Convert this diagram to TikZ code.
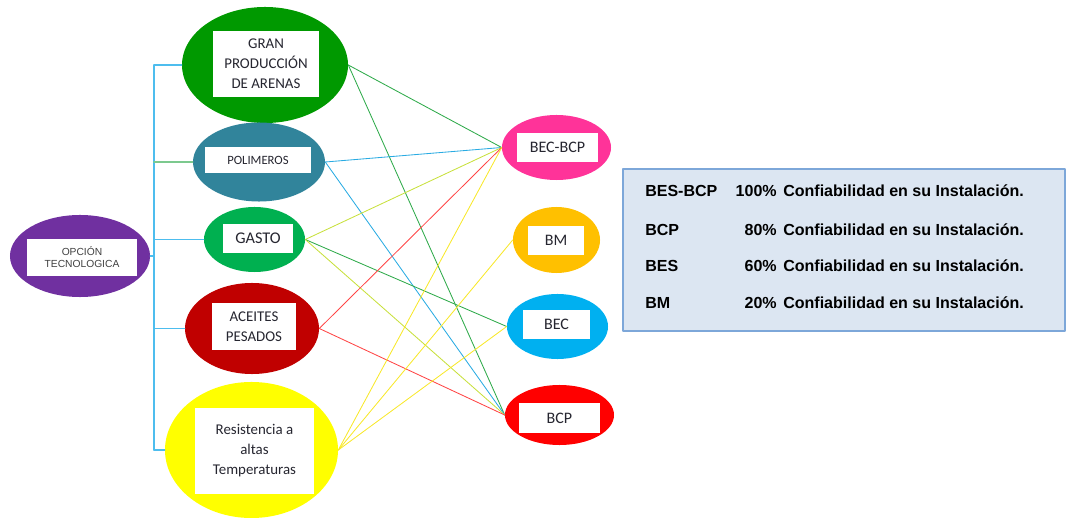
\documentclass[tikz,border=0pt]{standalone}
\usepackage{fontspec}
\setmainfont{Carlito}
\newfontfamily\arialfont{Liberation Sans}
\usetikzlibrary{shapes.geometric}

\definecolor{cPurple}{HTML}{7030A0}
\definecolor{cGreen}{HTML}{009900}
\definecolor{cTeal}{HTML}{31849B}
\definecolor{cGasto}{HTML}{00B050}
\definecolor{cDarkRed}{HTML}{C00000}
\definecolor{cYellow}{HTML}{FFFF00}
\definecolor{cPink}{HTML}{FF3399}
\definecolor{cOrange}{HTML}{FFC000}
\definecolor{cSky}{HTML}{00B0F0}
\definecolor{cRed}{HTML}{FF0000}
\definecolor{txtgray}{HTML}{262630}
\definecolor{busblue}{HTML}{4DBDEE}
\definecolor{busgreen}{HTML}{7CC98E}
\definecolor{lnGreen}{HTML}{2EAA4A}
\definecolor{lnBlue}{HTML}{29ABE2}
\definecolor{lnLime}{HTML}{C8E03C}
\definecolor{lnRed}{HTML}{FF4545}
\definecolor{lnYellow}{HTML}{F8E82A}
\definecolor{tabFill}{HTML}{DCE6F2}
\definecolor{tabLine}{HTML}{7DA7D9}

\tikzset{
  blob/.style={ellipse, draw=none, inner sep=0pt},
  lbl/.style={fill=white, inner sep=0pt, align=center, text=txtgray},
  link/.style={line width=0.6pt},
  bus/.style={line width=1pt, color=busblue},
  tabtxt/.style={inner sep=0pt, font=\arialfont\bfseries\fontsize{11.4}{13}\selectfont},
}

\begin{document}
\begin{tikzpicture}[x=0.025cm,y=-0.025cm,line cap=round,line join=round]
  \useasboundingbox (0,0) rectangle (1067,518);

  % left side
  \node[blob, fill=cPurple, minimum width=3.5cm, minimum height=2.05cm] (opcion) at (80,256) {};
  \node[lbl, minimum width=2.75cm, minimum height=0.925cm, text=black!75,
        font=\arialfont\fontsize{7.3}{8.6}\selectfont] (opcionlbl) at (82,257.5) {OPCIÓN\\TECNOLOGICA};

  \node[blob, fill=cGreen, minimum width=4.15cm, minimum height=2.9cm] (gran) at (265,65) {};
  \node[lbl, minimum width=2.65cm, minimum height=1.65cm,
        font=\fontsize{10.6}{14.2}\selectfont] (granlbl) at (266,64) {GRAN\\PRODUCCIÓN\\DE ARENAS};

  \node[blob, fill=cTeal, minimum width=3.3cm, minimum height=1.975cm] (polim) at (259,162) {};
  \node[lbl, minimum width=2.65cm, minimum height=0.65cm,
        font=\fontsize{9}{11}\selectfont] (polimlbl) at (258,160) {POLIMEROS};

  \node[blob, fill=cGasto, minimum width=2.525cm, minimum height=1.625cm] (gasto) at (254.5,239.5) {};
  \node[lbl, minimum width=1.75cm, minimum height=0.725cm,
        font=\fontsize{11.6}{14}\selectfont] (gastolbl) at (258,238.5) {GASTO};

  \node[blob, fill=cDarkRed, minimum width=3.35cm, minimum height=2.275cm] (aceites) at (252,328.5) {};
  \node[lbl, minimum width=2.1cm, minimum height=1.175cm,
        font=\fontsize{10.6}{14.2}\selectfont] (aceiteslbl) at (254,326.5) {ACEITES\\PESADOS};

  \node[blob, fill=cYellow, minimum width=4.325cm, minimum height=3.4cm] (resist) at (251.5,450) {};
  \node[lbl, minimum width=2.975cm, minimum height=2.15cm,
        font=\fontsize{10.6}{14.2}\selectfont] (resistlbl) at (254.5,451) {Resistencia a\\altas\\Temperaturas};

  % bracket
  \coordinate (bustop) at (154,65);
  \draw[bus] (gran.west) -- (gran.west -| bustop);
  \draw[bus] (gran.west -| bustop) -- (resist.west -| bustop);
  \draw[bus, color=busgreen] (polim.west) -- (polim.west -| bustop);
  \draw[bus] (gasto.west) -- (gasto.west -| bustop);
  \draw[bus] (aceites.west) -- (aceites.west -| bustop);
  \draw[bus] (resist.west) -- (resist.west -| bustop);
  \draw[bus] (opcion.east) -- (opcion.east -| bustop);

  % right side
  \node[blob, fill=cPink, minimum width=2.725cm, minimum height=1.625cm] (becbcp) at (556.5,147.5) {};
  \node[lbl, minimum width=2.025cm, minimum height=0.725cm,
        font=\fontsize{11.4}{14}\selectfont] (becbcplbl) at (557.5,147.5) {BEC-BCP};

  \node[blob, fill=cOrange, minimum width=2.175cm, minimum height=1.65cm] (bm) at (556.5,240) {};
  \node[lbl, minimum width=1.4cm, minimum height=0.725cm,
        font=\fontsize{11.4}{14}\selectfont] (bmlbl) at (556,240.5) {BM};

  \node[blob, fill=cSky, minimum width=2.525cm, minimum height=1.625cm] (bec) at (557.5,326.5) {};
  \node[lbl, minimum width=1.675cm, minimum height=0.725cm,
        font=\fontsize{11.4}{14}\selectfont] (beclbl) at (556.5,324.5) {BEC};

  \node[blob, fill=cRed, minimum width=2.725cm, minimum height=1.5cm] (bcp) at (559.5,415) {};
  \node[lbl, minimum width=2.025cm, minimum height=0.75cm,
        font=\fontsize{11.4}{14}\selectfont] (bcplbl) at (559.5,418) {BCP};

  % links
  \draw[link, lnGreen] (gran.east) -- (becbcp.west);
  \draw[link, lnGreen] (gran.east) -- (bcp.west);
  \draw[link, lnBlue] (polim.east) -- (becbcp.west);
  \draw[link, lnBlue] (polim.east) -- (bcp.west);
  \draw[link, lnLime] (gasto.east) -- (becbcp.west);
  \draw[link, lnGreen] (gasto.east) -- (bec.west);
  \draw[link, lnLime] (gasto.east) -- (bcp.west);
  \draw[link, lnRed] (aceites.east) -- (becbcp.west);
  \draw[link, lnRed] (aceites.east) -- (bcp.west);
  \draw[link, lnYellow] (resist.east) -- (becbcp.west);
  \draw[link, lnYellow] (resist.east) -- (bm.west);
  \draw[link, lnYellow] (resist.east) -- (bec.west);

  % legend table
  \draw[fill=tabFill, draw=tabLine, line width=1.2pt] (623,169) rectangle (1065,331);
  \node[tabtxt, anchor=west] (r1a) at (645,191) {BES-BCP};
  \node[tabtxt, anchor=east] (r1b) at (777,191) {100\%};
  \node[tabtxt, anchor=west] (r1c) at (783,191) {Confiabilidad en su Instalación.};
  \node[tabtxt, anchor=west] (r2a) at (645,229.5) {BCP};
  \node[tabtxt, anchor=east] (r2b) at (777,229.5) {80\%};
  \node[tabtxt, anchor=west] (r2c) at (783,229.5) {Confiabilidad en su Instalación.};
  \node[tabtxt, anchor=west] (r3a) at (645,266) {BES};
  \node[tabtxt, anchor=east] (r3b) at (777,266) {60\%};
  \node[tabtxt, anchor=west] (r3c) at (783,266) {Confiabilidad en su Instalación.};
  \node[tabtxt, anchor=west] (r4a) at (645,303) {BM};
  \node[tabtxt, anchor=east] (r4b) at (777,303) {20\%};
  \node[tabtxt, anchor=west] (r4c) at (783,303) {Confiabilidad en su Instalación.};
\end{tikzpicture}
\end{document}
